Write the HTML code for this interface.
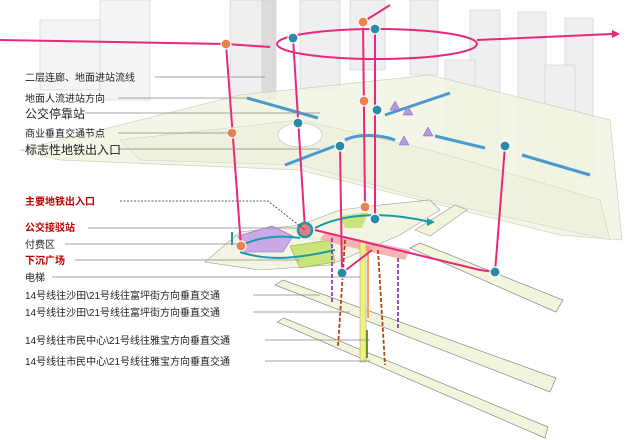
<!DOCTYPE html>
<html><head><meta charset="utf-8"><style>
body{margin:0;background:#fff;width:640px;height:440px;overflow:hidden}
svg{display:block}
text{font-family:"Liberation Sans","Noto Sans CJK SC",sans-serif;font-size:10px;fill:#222}
.r{fill:#c00000;font-weight:bold}
.b{font-size:12px}
</style></head><body>
<svg width="640" height="440" viewBox="0 0 640 440">
<!-- buildings background -->
<g fill="#eeeeee" stroke="#c8c8c8" stroke-width="0.6" opacity="0.9">
<rect x="230" y="0" width="40" height="110"/>
<rect x="262" y="0" width="14" height="100" fill="#d8d8d8"/>
<rect x="300" y="0" width="40" height="90"/>
<rect x="350" y="0" width="35" height="70"/>
<rect x="410" y="0" width="28" height="75"/>
<rect x="470" y="10" width="30" height="170"/>
<rect x="518" y="12" width="28" height="170"/>
<rect x="565" y="18" width="28" height="160"/>
<rect x="545" y="65" width="30" height="130"/>
<rect x="445" y="60" width="30" height="130"/>
<rect x="40" y="20" width="60" height="70" fill="#f3f3f3"/>
<rect x="100" y="0" width="50" height="100" fill="#f5f5f5"/>
</g>
<!-- site plane -->
<polygon points="20,150 240,95 430,75 610,120 622,240 560,235 300,170 60,160" fill="#f2f4e2" stroke="#c9ccb4" stroke-width="0.8" opacity="0.85"/>
<polygon points="120,140 300,120 430,150 600,200 610,240 430,200 300,165 140,160" fill="#eef1dc" stroke="#c9ccb4" stroke-width="0.6" opacity="0.8"/>
<ellipse cx="300" cy="135" rx="22" ry="12" fill="#fff" stroke="#bbb" stroke-width="0.6"/>
<!-- lower platforms -->
<polygon points="275,285 283,280 556,378 550,392" fill="#f2f4dc" stroke="#888" stroke-width="0.7"/>
<polygon points="277,322 284,318 548,427 545,438" fill="#f2f4dc" stroke="#888" stroke-width="0.7"/>
<polygon points="410,248 420,243 563,300 556,312" fill="#f2f4dc" stroke="#888" stroke-width="0.7"/>
<polygon points="415,230 455,205 467,210 430,236" fill="#f2f4dc" stroke="#999" stroke-width="0.6"/>
<!-- ground cluster -->
<polygon points="205,262 240,232 300,225 340,210 380,205 430,200 440,210 400,235 330,265 260,270" fill="#f3f5e2" stroke="#999" stroke-width="0.6"/>
<polygon points="238,236 272,226 293,236 283,252 245,252" fill="#c9a9e8" stroke="#8a6cc0" stroke-width="0.6"/>
<polygon points="290,246 330,240 335,262 300,268" fill="#c8e47a" stroke="#8aa840" stroke-width="0.6"/>
<polygon points="340,216 368,212 362,228 345,228" fill="#c8e47a"/>
<polygon points="325,232 410,250 405,260 320,240" fill="#f5a8a8" opacity="0.85"/>
<!-- teal paths -->
<g fill="none" stroke="#1a9aa8" stroke-width="2">
<path d="M240,246 C260,236 280,235 300,238"/>
<path d="M240,252 C270,262 300,258 335,250"/>
<path d="M315,228 C340,215 380,210 430,222"/>
<path d="M232,245 L232,232"/>
</g>
<polygon points="427,218 435,222 427,226" fill="#1a9aa8"/>
<!-- blue arrows -->
<g stroke="#4a9ad0" stroke-width="3" fill="none">
<path d="M247,98 L318,118"/><path d="M450,93 L385,115"/>
<path d="M285,165 L335,146"/><path d="M395,140 C375,133 355,135 345,140"/>
<path d="M435,136 L485,148"/><path d="M590,175 L522,155"/>
</g>
<g fill="#b09ae0" stroke="#7d63c0" stroke-width="0.5">
<polygon points="395,101 390,110 400,110"/><polygon points="408,106 403,115 413,115"/>
<polygon points="428,127 423,136 433,136"/><polygon points="404,136 399,145 409,145"/>
</g>
<!-- vertical arrows -->
<rect x="360" y="242" width="6" height="120" fill="#f2f07a" stroke="#999" stroke-width="0.5"/>
<g fill="none" stroke-width="1.8">
<path d="M332,238 L332,302" stroke="#8a3cc8" stroke-dasharray="4,2"/>
<path d="M398,258 L398,330" stroke="#8a3cc8" stroke-dasharray="4,2"/>
<path d="M345,240 L338,347" stroke="#b04410" stroke-dasharray="4,2"/>
<path d="M378,250 L385,365" stroke="#b04410" stroke-dasharray="4,2"/>
<path d="M368,246 L368,318" stroke="#f59a50"/>
<path d="M367,330 L367,358" stroke="#5a8a1a"/>
</g>
<!-- pink routes -->
<g fill="none" stroke="#e8287c" stroke-width="2">
<path d="M0,40 L226,44 L270,47"/>
<ellipse cx="377" cy="44" rx="100" ry="15"/>
<path d="M477,40 L612,34"/>
<path d="M363,22 L390,5"/>
<path d="M226,44 L241,246"/><path d="M293,38 L305,230"/>
<path d="M363,22 L365,207"/><path d="M375,29 L375,220"/>
<path d="M505,146 L495,272"/><path d="M340,146 L342,273"/>
<path d="M315,230 L480,270 L495,272"/>
<path d="M342,273 L372,250"/>
</g>
<polygon points="612,30 620,34 612,38" fill="#e8287c"/>
<!-- dots -->
<g stroke="#fff" stroke-width="1.2">
<circle cx="226" cy="44" r="5" fill="#f08050"/><circle cx="232" cy="133" r="5" fill="#f08050"/>
<circle cx="241" cy="246" r="5" fill="#f08050"/><circle cx="363" cy="22" r="5" fill="#f08050"/>
<circle cx="364" cy="101" r="5" fill="#f08050"/><circle cx="365" cy="207" r="5" fill="#f08050"/>
<circle cx="293" cy="38" r="5" fill="#2a8aa8"/><circle cx="375" cy="29" r="5" fill="#2a8aa8"/>
<circle cx="298" cy="123" r="5" fill="#2a8aa8"/><circle cx="377" cy="110" r="5" fill="#2a8aa8"/>
<circle cx="340" cy="146" r="5" fill="#2a8aa8"/><circle cx="505" cy="146" r="5" fill="#2a8aa8"/>
<circle cx="375" cy="219" r="5" fill="#2a8aa8"/><circle cx="342" cy="273" r="5" fill="#2a8aa8"/>
<circle cx="495" cy="272" r="5" fill="#2a8aa8"/>
</g>
<circle cx="305" cy="230" r="7" fill="#e87a8a" stroke="#1a9aa8" stroke-width="2.5"/>
<!-- label leaders -->
<g stroke="#888" stroke-width="0.7">
<line x1="155" y1="77" x2="265" y2="77"/><line x1="118" y1="98" x2="250" y2="98"/>
<line x1="85" y1="113" x2="320" y2="113"/><line x1="118" y1="133" x2="232" y2="133"/>
<line x1="118" y1="149" x2="320" y2="149"/>
<line x1="88" y1="228" x2="300" y2="228"/><line x1="65" y1="244" x2="240" y2="244"/>
<line x1="75" y1="260" x2="300" y2="260"/><line x1="52" y1="277" x2="360" y2="277"/>
<line x1="253" y1="295" x2="320" y2="295"/><line x1="253" y1="312" x2="350" y2="312"/>
<line x1="265" y1="340" x2="370" y2="340"/><line x1="265" y1="361" x2="370" y2="361"/>
</g>
<path d="M120,201 L268,201 L305,230" fill="none" stroke="#333" stroke-width="0.8" stroke-dasharray="2,1.5"/>
<!-- labels -->
<text x="25" y="81">二层连廊、地面进站流线</text>
<text x="25" y="102">地面人流进站方向</text>
<text x="25" y="118" class="b">公交停靠站</text>
<text x="25" y="137">商业垂直交通节点</text>
<text x="25" y="154" class="b">标志性地铁出入口</text>
<text x="25" y="205" class="r">主要地铁出入口</text>
<text x="25" y="231" class="r">公交接驳站</text>
<text x="25" y="248">付费区</text>
<text x="25" y="264" class="r">下沉广场</text>
<text x="25" y="281">电梯</text>
<text x="25" y="299">14号线往沙田\21号线往富坪街方向垂直交通</text>
<text x="25" y="316">14号线往沙田\21号线往富坪街方向垂直交通</text>
<text x="25" y="344">14号线往市民中心\21号线往雅宝方向垂直交通</text>
<text x="25" y="365">14号线往市民中心\21号线往雅宝方向垂直交通</text>
</svg>
</body></html>
